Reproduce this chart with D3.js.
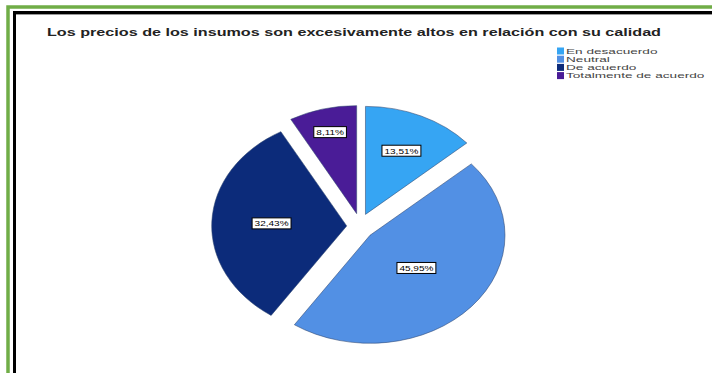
<!DOCTYPE html>
<html>
<head>
<meta charset="utf-8">
<script src="https://cdn.jsdelivr.net/npm/d3@7"></script>
<style>
  html, body { margin: 0; padding: 0; background: #fff; }
  svg { display: block; font-family: Arial, "Liberation Sans", sans-serif; }
</style>
</head>
<body>
<svg id="chart" width="712" height="373"></svg>
<script>
// Survey answers and their shares (%)
const categories = ["En desacuerdo", "Neutral", "De acuerdo", "Totalmente de acuerdo"];
const percentages = [13.51, 45.95, 32.43, 8.11];
const colors = ["#36A5F3", "#5290E4", "#0C2B7A", "#4A1C97"];
const title = "Los precios de los insumos son excesivamente altos en relación con su calidad";

const svg = d3.select("#chart");

// Double frame: green outer rule, black inner rule
const frame = svg.append("g");
frame.append("rect").attr("x", 8).attr("y", 7).attr("width", 720).attr("height", 400)
  .attr("fill", "none").attr("stroke", "#70AD47").attr("stroke-width", 3.5);
frame.append("rect").attr("x", 14.5).attr("y", 12.5).attr("width", 720).attr("height", 400)
  .attr("fill", "none").attr("stroke", "#000").attr("stroke-width", 3);
frame.append("line").attr("x1", 16).attr("x2", 712).attr("y1", 14.5).attr("y2", 14.5)
  .attr("stroke", "#999").attr("stroke-width", 1);

// Title, stretched horizontally to its printed width
svg.append("text")
  .attr("x", 47).attr("y", 36)
  .attr("font-size", 11).attr("font-weight", "bold").attr("fill", "#222")
  .attr("textLength", 614).attr("lengthAdjust", "spacingAndGlyphs")
  .text(title);

// Pie geometry: circular pie squeezed into an ellipse, every slice pulled out
const cx = 360, cy = 226.5, R = 108, sx = 1.25, explode = 13.3;
const pie = d3.pie().sort(null).value(d => d);
const arcs = pie(percentages);
const arc = d3.arc().innerRadius(0).outerRadius(R);
const mid = d => (d.startAngle + d.endAngle) / 2;
const vertex = d => [cx + explode * Math.sin(mid(d)), cy - explode * Math.cos(mid(d))];

svg.append("g").selectAll("g.slice")
  .data(arcs).join("g")
  .attr("class", "slice")
  .attr("transform", d => {
    const [vx, vy] = vertex(d);
    return `translate(${vx},${vy}) scale(${sx},1)`;
  })
  .append("path")
  .attr("d", arc)
  .attr("fill", (d, i) => colors[i])
  .attr("stroke", "#2d4670").attr("stroke-opacity", 0.55)
  .attr("stroke-width", 1).attr("vector-effect", "non-scaling-stroke");

// Percentage labels: at the sector's area centroid, pushed outward
// in narrow sectors until the box fits comfortably between the edges
const fmt = v => d3.format(".2f")(v).replace(".", ",") + "%";
svg.append("g").selectAll("g.lab")
  .data(arcs).join("g")
  .attr("class", "lab")
  .each(function (d) {
    const g = d3.select(this);
    const t = g.append("text")
      .attr("font-size", 8).attr("fill", "#000")
      .attr("text-anchor", "middle").attr("dy", "0.35em")
      .text(fmt(d.data));
    const w = t.node().getComputedTextLength() * 1.25;
    t.attr("textLength", w).attr("lengthAdjust", "spacingAndGlyphs");
    g.insert("rect", "text")
      .attr("x", -w / 2 - 2.5).attr("y", -5.5)
      .attr("width", w + 5).attr("height", 11)
      .attr("fill", "#fff").attr("stroke", "#000").attr("stroke-width", 1);

    const m = mid(d);
    const half = (d.endAngle - d.startAngle) / 2;
    let dist = (2 / 3) * R * Math.sin(half) / half;
    while (2 * dist * Math.sin(Math.min(half, Math.PI / 2)) * sx < w + 25 && dist < 0.8 * R) dist += 1;
    const [vx, vy] = vertex(d);
    g.attr("transform", `translate(${vx + sx * dist * Math.sin(m)},${vy - dist * Math.cos(m)})`);
  });

// Legend
const legend = svg.append("g").selectAll("g.leg")
  .data(categories).join("g")
  .attr("class", "leg")
  .attr("transform", (d, i) => `translate(557,${47.5 + i * 8.2})`);
legend.append("rect")
  .attr("width", 7).attr("height", 7)
  .attr("fill", (d, i) => colors[i]);
legend.append("text")
  .attr("x", 9).attr("y", 3.5).attr("dy", "0.35em")
  .attr("font-size", 8).attr("fill", "#444")
  .text(d => d)
  .each(function () {
    const w = this.getComputedTextLength() * 1.7;
    d3.select(this).attr("textLength", w).attr("lengthAdjust", "spacingAndGlyphs");
  });
</script>
</body>
</html>
